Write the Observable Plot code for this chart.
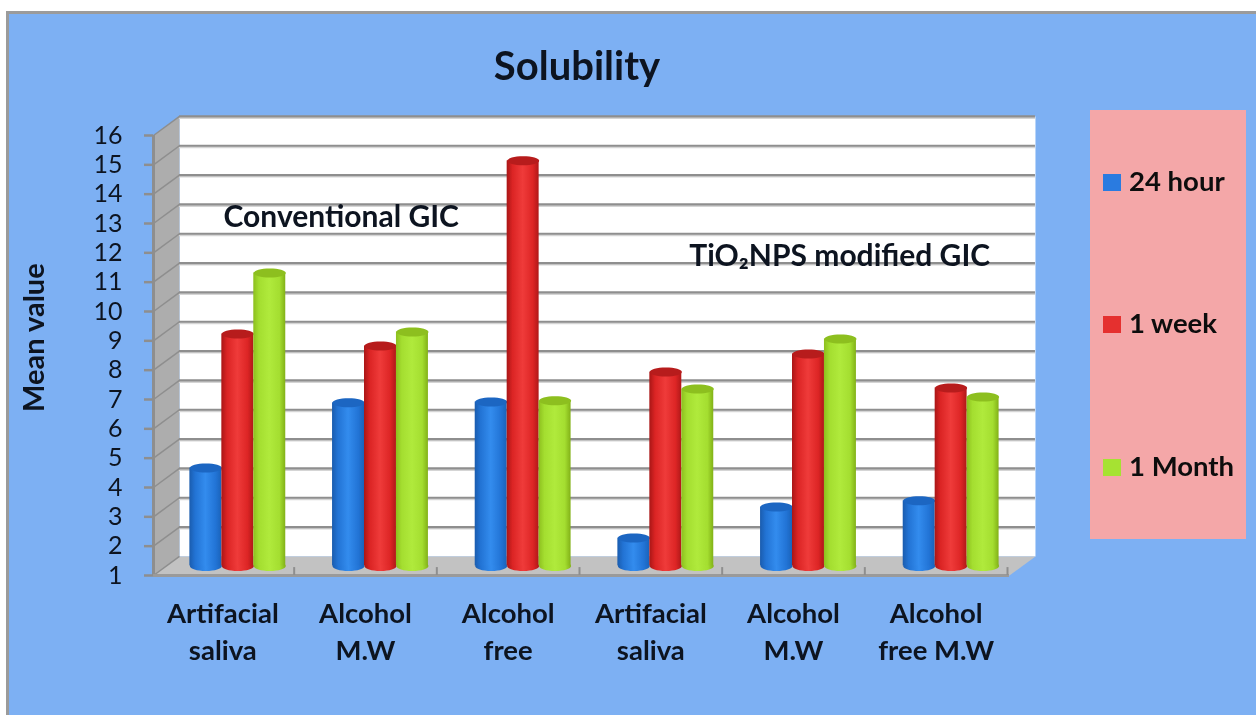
<!DOCTYPE html>
<html>
<head>
<meta charset="utf-8">
<script src="https://cdn.jsdelivr.net/npm/d3@7"></script>
<script src="https://cdn.jsdelivr.net/npm/@observablehq/plot@0.6"></script>
<style>
html,body{margin:0;padding:0;background:#fff;overflow:hidden;width:1256px;height:715px}
#panel{position:absolute;left:6px;top:11px;width:1250px;height:704px;box-sizing:border-box;background:#7DB0F3;border-left:3px solid #9b9b9b;border-top:3px solid #9b9b9b}
#chart{position:absolute;left:0;top:0;width:1256px;height:715px}
#chart svg{display:block;filter:blur(.45px)}
#title{position:absolute;left:377px;width:400px;top:42px;text-align:center;font:700 40px/46px Lato,sans-serif;color:#0d1420;filter:blur(.4px)}
#legend{position:absolute;left:1090px;top:110px;width:156px;height:429px;background:#F4A7A8;font:700 27.5px/30px Lato,sans-serif;color:#0d0d0d;filter:blur(.4px)}
#legend .it{position:absolute;left:13px;height:30px;white-space:nowrap}
#legend i{display:inline-block;width:18px;height:17px;margin-right:8px;vertical-align:0px}
</style>
</head>
<body>
<div id="panel"></div>
<div id="chart"></div>
<div id="title">Solubility</div>
<div id="legend"></div>
<script>
const categories = ["Artifacial\nsaliva","Alcohol\nM.W","Alcohol\nfree","Artifacial\nsaliva","Alcohol\nM.W","Alcohol\nfree M.W"];
const hour24  = [4.34, 6.56, 6.59, 1.95, 3.01, 3.22];
const week1   = [8.91, 8.50, 14.81, 7.61, 8.23, 7.07];
const month1  = [10.99, 8.98, 6.63, 7.03, 8.74, 6.76];
const yTicks  = d3.range(1, 17);
const seriesNames = ["24 hour","1 week","1 Month"];
const seriesColors = ["#2A7BE0","#E5302F","#A6E232"];
const capColors = ["#1C66C2","#B71C1C","#8DBF1F"];
const gradientStops = [
  [["0","#1A5CAE"],[".18","#2273D4"],[".5","#338CEE"],[".82","#2274D6"],["1","#1A63BA"]],
  [["0","#A91616"],[".18","#DB2424"],[".5","#EF3B3A"],[".82","#DD2525"],["1","#B01818"]],
  [["0","#8DBF1E"],[".18","#A4DE30"],[".5","#B0EA3C"],[".82","#A4DE30"],["1","#82B117"]]
];
const depthX = 0.182, depthY = 0.65, barW = 0.224;
const xMax = categories.length;
const font = "Lato, sans-serif";

// elliptical end of a cylinder
const ellipse = (rx, ry) => ({draw(c){
  const k = 0.5523;
  c.moveTo(-rx,0);
  c.bezierCurveTo(-rx,-ry*k,-rx*k,-ry,0,-ry);
  c.bezierCurveTo(rx*k,-ry,rx,-ry*k,rx,0);
  c.bezierCurveTo(rx,ry*k,rx*k,ry,0,ry);
  c.bezierCurveTo(-rx*k,ry,-rx,ry*k,-rx,0);
  c.closePath();
}});

const defs = () => {
  const d = d3.create("svg:defs");
  gradientStops.forEach((stops,i) => {
    const g = d.append("linearGradient").attr("id","cyl"+i).attr("x1",0).attr("x2",1).attr("y1",0).attr("y2",0);
    stops.forEach(([o,c]) => g.append("stop").attr("offset",o).attr("stop-color",c));
  });
  return d.node();
};

const wall = [{x:depthX,y:1+depthY},{x:xMax+depthX,y:1+depthY},{x:xMax+depthX,y:16+depthY},{x:depthX,y:16+depthY}];
const side = [{x:0,y:1},{x:depthX,y:1+depthY},{x:depthX,y:16+depthY},{x:0,y:16}];
const floor = [{x:0,y:1},{x:xMax,y:1},{x:xMax+depthX,y:1+depthY},{x:depthX,y:1+depthY}];
const poly = (pts,fill) => Plot.line([...pts,pts[0]],{x:"x",y:"y",fill,stroke:"none"});

const barMarks = [hour24,week1,month1].flatMap((vals,s) => {
  const rows = vals.map((v,i) => ({v, c:i+0.5+depthX/2+(s-1)*barW}));
  const top = depthY/2;
  return [
    Plot.dot(rows,{x:"c",y:()=>1+top,symbol:ellipse(16,5),r:5,fill:`url(#cyl${s})`,stroke:"none"}),
    Plot.rect(rows,{x1:d=>d.c-barW/2,x2:d=>d.c+barW/2,y1:()=>1+top,y2:d=>d.v+top,fill:`url(#cyl${s})`,inset:0}),
    Plot.dot(rows,{x:"c",y:d=>d.v+top,symbol:ellipse(16,4.5),r:5,fill:capColors[s],stroke:"none"})
  ];
});

const plot = Plot.plot({
  width:1256, height:715,
  marginLeft:153, marginRight:247, marginTop:135, marginBottom:140,
  style:{background:"transparent",fontFamily:font},
  x:{type:"linear",domain:[0,xMax]},
  y:{type:"linear",domain:[1,16]},
  marks:[
    defs,
    poly(wall,"#ffffff"),
    poly(side,"#ADADAD"),
    poly(floor,"#C2C2C2"),
    Plot.ruleY(yTicks.slice(1),{x1:depthX,x2:xMax+depthX,y:d=>d+depthY,dy:1.5,stroke:"#d5d5d5",strokeWidth:2}),
    Plot.ruleY(yTicks.slice(1),{x1:depthX,x2:xMax+depthX,y:d=>d+depthY,stroke:"#8e8e8e",strokeWidth:2.2}),
    Plot.link(yTicks,{x1:()=>0,y1:d=>d,x2:()=>depthX,y2:d=>d+depthY,stroke:"#8e8e8e",strokeWidth:1.5}),
    Plot.ruleX([0],{y1:1,y2:16,stroke:"#8e8e8e",strokeWidth:3}),
    Plot.ruleY([1],{x1:0,x2:xMax,stroke:"#9a9a9a",strokeWidth:3}),
    Plot.ruleX(d3.range(1,xMax+1),{y1:1,y2:1.27,dx:-2,stroke:"#8e8e8e",strokeWidth:2}),
    Plot.axisY({ticks:yTicks,tickFormat:d=>String(d),tickSize:9,tickPadding:22,stroke:"#8e8e8e",strokeWidth:2.5,
      fill:"#0d1420",fontSize:25,label:null,fontWeight:400}),
    Plot.axisX({ticks:d3.range(0.5,xMax),tickSize:0,tickPadding:21,lineHeight:1.35,lineAnchor:"top",
      tickFormat:d=>categories[Math.floor(d)],fill:"#0d1420",fontSize:27.5,fontWeight:700,label:null,dx:-2}),
    Plot.text(["Mean value"],{x:-0.83,y:9.11,rotate:-90,fontSize:29,fontWeight:700,fill:"#0d1420"}),
    ...barMarks,
    Plot.text(["Conventional GIC"],{x:1.316,y:13.2,fontSize:30,fontWeight:700,fill:"#0d1420"}),
    Plot.text(["TiO₂NPS modified GIC"],{x:4.81,y:11.87,fontSize:30,fontWeight:700,fill:"#0d1420"})
  ]
});
document.getElementById("chart").append(plot);

const lg = document.getElementById("legend");
[56,198,341].forEach((t,i) => {
  const e = document.createElement("div");
  e.className = "it"; e.style.top = t+"px";
  e.innerHTML = `<i style="background:${seriesColors[i]}"></i>${seriesNames[i]}`;
  lg.append(e);
});
</script>
</body>
</html>
